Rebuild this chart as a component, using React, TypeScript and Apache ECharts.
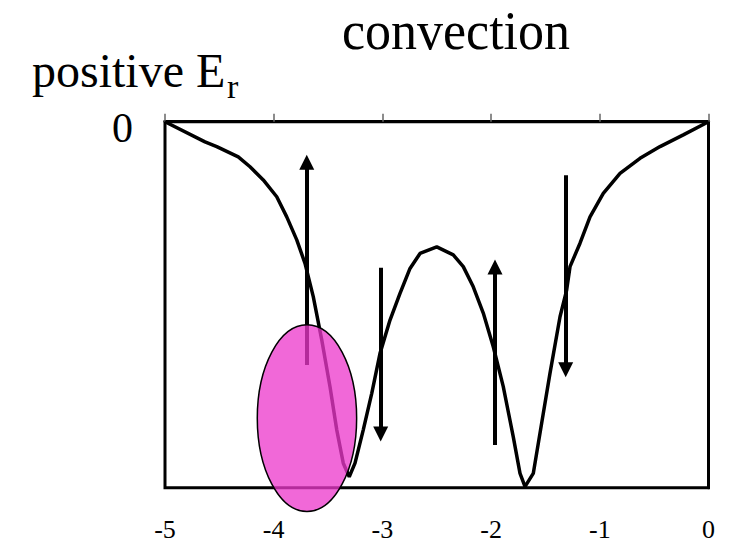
import React, { useEffect, useRef } from "react";
import * as echarts from "echarts";

// Radial position (x) and electric field Er (normalised, 0 at the top edge)
const profileR = [
  -5, -4.632, -4.524, -4.326, -4.218, -4.096, -3.972, -3.88, -3.788, -3.712,
  -3.636, -3.558, -3.482, -3.42, -3.36, -3.305, -3.252, -3.176, -3.098, -3.022,
  -2.93, -2.838, -2.746, -2.654, -2.5, -2.348, -2.256, -2.164, -2.072, -1.98,
  -1.888, -1.796, -1.734, -1.688, -1.612, -1.535, -1.458, -1.366, -1.305, -1.274,
  -1.182, -1.09, -0.968, -0.814, -0.63, -0.446, -0.232, 0,
];
const profileEr = [
  0, -0.055, -0.068, -0.096, -0.123, -0.159, -0.205, -0.26, -0.323, -0.387,
  -0.478, -0.596, -0.724, -0.842, -0.933, -0.97, -0.933, -0.842, -0.742, -0.633,
  -0.542, -0.469, -0.401, -0.36, -0.342, -0.364, -0.396, -0.451, -0.523, -0.615,
  -0.724, -0.861, -0.961, -0.997, -0.961, -0.824, -0.687, -0.533, -0.46, -0.396,
  -0.332, -0.26, -0.196, -0.141, -0.1, -0.068, -0.036, 0,
];

// Convection flow arrows: position, tail value, head value
const flowArrowR = [-3.696, -3.016, -1.964, -1.314];
const flowArrowFrom = [-0.665, -0.399, -0.883, -0.146];
const flowArrowTo = [-0.111, -0.853, -0.397, -0.678];

// Highlighted island region (centre and half-widths in axis units)
const islandCenter = [-3.694, -0.81];
const islandRadius = [0.457, 0.255];

const xTickLabels = ["-5", "-4", "-3", "-2", "-1", "0"];

const FONT = "'Liberation Serif', 'Times New Roman', serif";

export default function App() {
  const ref = useRef<HTMLDivElement>(null);

  useEffect(() => {
    if (!ref.current) return;
    const chart = echarts.init(ref.current, null, { renderer: "svg" });

    const curve = profileR.map((r, i) => [r, profileEr[i]]);
    const arrows = flowArrowR.map((r, i) => ({
      coords: [
        [r, flowArrowFrom[i]],
        [r, flowArrowTo[i]],
      ],
    }));

    chart.setOption({
      animation: false,
      backgroundColor: "#fff",
      textStyle: { fontFamily: FONT, color: "#000" },
      grid: {
        left: 165,
        right: 24.5,
        top: 121.7,
        bottom: 55.3,
        show: true,
        borderColor: "#000",
        borderWidth: 3,
        backgroundColor: "#fff",
        containLabel: false,
        outerBoundsMode: "none",
      },
      xAxis: {
        type: "value",
        min: -5,
        max: 0,
        interval: 1,
        axisLine: { show: true, lineStyle: { color: "#000", width: 3 } },
        axisTick: {
          show: true,
          inside: true,
          length: 8,
          lineStyle: { color: "#666", width: 1.5 },
        },
        splitLine: { show: false },
        axisLabel: {
          margin: 29,
          fontSize: 26,
          fontFamily: FONT,
          color: "#000",
          showMinLabel: true,
          showMaxLabel: true,
          formatter: (v: number) => {
            const idx = Math.round(v + 5);
            return xTickLabels[idx] ?? "";
          },
        },
      },
      yAxis: {
        type: "value",
        min: -1,
        max: 0,
        interval: 1,
        axisLine: { show: true, lineStyle: { color: "#000", width: 3 } },
        axisTick: { show: false },
        splitLine: { show: false },
        axisLabel: {
          margin: 32,
          fontSize: 42,
          fontFamily: FONT,
          color: "#000",
          verticalAlign: "top",
          lineHeight: 12.6,
          formatter: (v: number) => (v === 0 ? "0" : ""),
        },
      },
      series: [
        {
          type: "line",
          data: curve,
          showSymbol: false,
          symbol: "none",
          smooth: false,
          lineStyle: { color: "#000", width: 3.5 },
          z: 3,
        },
        {
          type: "lines",
          coordinateSystem: "cartesian2d",
          data: arrows,
          symbol: ["none", "triangle"],
          symbolSize: 15,
          lineStyle: { color: "#000", width: 4, opacity: 1, type: "solid" },
          z: 4,
        },
      ],
    });

    const c = chart.convertToPixel({ gridIndex: 0 }, islandCenter) as number[];
    const e = chart.convertToPixel({ gridIndex: 0 }, [
      islandCenter[0] + islandRadius[0],
      islandCenter[1] + islandRadius[1],
    ]) as number[];

    chart.setOption({
      graphic: [
        {
          type: "ellipse",
          z: 100,
          shape: {
            cx: c[0],
            cy: c[1],
            rx: Math.abs(e[0] - c[0]),
            ry: Math.abs(e[1] - c[1]),
          },
          style: {
            fill: "rgba(236, 56, 204, 0.76)",
            stroke: "#000",
            lineWidth: 1.5,
          },
        },
        {
          type: "text",
          z: 100,
          x: 456,
          y: 30.7,
          scaleY: 1.04,
          style: {
            text: "convection",
            fontSize: 52,
            fontFamily: FONT,
            fill: "#000",
            align: "center",
            verticalAlign: "middle",
          },
        },
        {
          type: "text",
          z: 100,
          x: 32,
          y: 70.8,
          style: {
            text: "positive E",
            fontSize: 48,
            fontFamily: FONT,
            fill: "#000",
            align: "left",
            verticalAlign: "middle",
          },
        },
        {
          type: "text",
          z: 100,
          x: 227,
          y: 86.5,
          style: {
            text: "r",
            fontSize: 34,
            fontFamily: FONT,
            fill: "#000",
            align: "left",
            verticalAlign: "middle",
          },
        },
      ],
    });

    return () => chart.dispose();
  }, []);

  return (
    <div
      ref={ref}
      style={{ position: "fixed", left: 0, top: 0, width: 733, height: 543 }}
    />
  );
}
